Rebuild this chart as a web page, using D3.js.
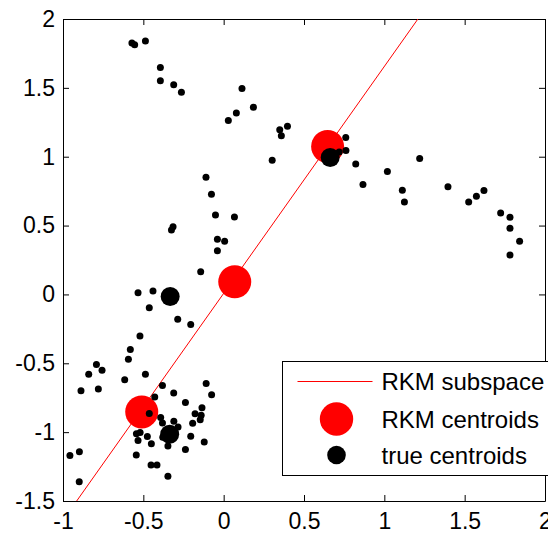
<!DOCTYPE html>
<html>
<head>
<meta charset="utf-8">
<script src="https://cdn.jsdelivr.net/npm/d3@7"></script>
<style>
  body { margin: 0; background: #fff; }
  svg { display: block; font-family: "Liberation Sans", Arial, Helvetica, sans-serif; }
</style>
</head>
<body>
<svg width="548" height="535"></svg>
<script>
// data points
const pointX = [-0.571, -0.554, -0.487, -0.394, -0.394, -0.311, -0.263, 0.114, 0.185, 0.079,
  0.029, 0.349, 0.359, 0.397, 0.302, -0.110, -0.076, -0.051, 0.067, -0.315,
  -0.325, -0.039, 0.006, -0.039, -0.143, 0.760, 0.761, 0.822, 0.867, 1.019,
  1.112, 1.125, 1.220, 1.396, 1.525, 1.573, 1.620, 1.724, 1.782, 1.782,
  1.842, 1.782, 0.719, -0.533, -0.440, -0.463, -0.286, -0.205, -0.521, -0.581,
  -0.593, -0.792, -0.757, -0.840, -0.487, -0.616, -0.381, -0.109, -0.888, -0.780,
  -0.311, -0.075, -0.429, -0.238, -0.135, -0.178, -0.463, -0.140, -0.146, -0.392,
  -0.381, -0.310, -0.193, -0.284, -0.543, -0.520, -0.475, -0.533, -0.205, -0.121,
  -0.450, -0.347, -0.238, -0.957, -0.898, -0.544, -0.452, -0.415, -0.347, -0.899,
  -0.379];
const pointY = [1.826, 1.813, 1.840, 1.648, 1.552, 1.522, 1.469, 1.496, 1.360, 1.317,
  1.263, 1.195, 1.152, 1.222, 0.975, 0.851, 0.728, 0.577, 0.563, 0.492,
  0.468, 0.401, 0.386, 0.318, 0.164, 1.139, 1.046, 0.947, 0.798, 0.892,
  0.757, 0.672, 0.987, 0.781, 0.672, 0.713, 0.754, 0.592, 0.561, 0.481,
  0.386, 0.286, 1.035, 0.012, 0.025, -0.097, -0.180, -0.219, -0.302, -0.399,
  -0.470, -0.508, -0.550, -0.579, -0.579, -0.619, -0.661, -0.646, -0.700, -0.686,
  -0.715, -0.729, -0.744, -0.785, -0.822, -0.867, -0.864, -0.878, -0.910, -0.894,
  -0.933, -0.920, -0.936, -0.962, -1.011, -1.003, -1.032, -1.060, -1.030, -1.071,
  -1.084, -1.100, -1.126, -1.170, -1.142, -1.166, -1.239, -1.239, -1.320, -1.360,
  -1.037];

const rkmX = [-0.510, 0.069, 0.647];
const rkmY = [-0.853, 0.092, 1.074];

const trueX = [-0.333, -0.336, 0.663];
const trueY = [-0.015, -1.015, 0.994];

// RKM subspace, end points where it meets the axes
const subspaceX = [-0.915, 1.209];
const subspaceY = [-1.5, 2];

const xTicks = [-1, -0.5, 0, 0.5, 1, 1.5, 2];
const yTicks = [-1.5, -1, -0.5, 0, 0.5, 1, 1.5, 2];
const legendLabels = ['RKM subspace', 'RKM centroids', 'true centroids'];

const svg = d3.select('svg');
const width = +svg.attr('width');
const height = +svg.attr('height');

const margin = {top: 19, right: 3, bottom: 34, left: 63};
const innerWidth = width - margin.left - margin.right;
const innerHeight = height - margin.top - margin.bottom;

const xScale = d3.scaleLinear().domain([-1, 2]).range([0, innerWidth]);
const yScale = d3.scaleLinear().domain([-1.5, 2]).range([innerHeight, 0]);

const g = svg.append('g')
  .attr('transform', `translate(${margin.left},${margin.top})`);

const fmt = d => String(d);

// bottom + left carry labels, top + right just the inward ticks
const xAxisG = g.append('g')
  .attr('transform', `translate(0,${innerHeight})`)
  .call(d3.axisBottom(xScale).tickValues(xTicks).tickFormat(fmt)
    .tickSizeInner(-6).tickSizeOuter(0).tickPadding(12));
const yAxisG = g.append('g')
  .call(d3.axisLeft(yScale).tickValues(yTicks).tickFormat(fmt)
    .tickSizeInner(-6).tickSizeOuter(0).tickPadding(8));
g.append('g')
  .call(d3.axisTop(xScale).tickValues(xTicks).tickFormat('')
    .tickSizeInner(-6).tickSizeOuter(0));
g.append('g')
  .attr('transform', `translate(${innerWidth},0)`)
  .call(d3.axisRight(yScale).tickValues(yTicks).tickFormat('')
    .tickSizeInner(-6).tickSizeOuter(0));

g.selectAll('.tick text')
  .attr('font-size', 23)
  .attr('font-family', '"Liberation Sans", Arial, Helvetica, sans-serif')
  .attr('fill', '#000');
g.selectAll('.domain, .tick line').attr('stroke', '#000');

const plot = g.append('g');

// subspace line
plot.append('line')
  .attr('x1', xScale(subspaceX[0])).attr('y1', yScale(subspaceY[0]))
  .attr('x2', xScale(subspaceX[1])).attr('y2', yScale(subspaceY[1]))
  .attr('stroke', '#ff0000')
  .attr('stroke-width', 1);

// RKM centroids
plot.selectAll('circle.rkm').data(rkmX)
  .enter().append('circle')
    .attr('class', 'rkm')
    .attr('cx', d => xScale(d))
    .attr('cy', (d, i) => yScale(rkmY[i]))
    .attr('r', 16.5)
    .attr('fill', '#ff0000');

// data points
plot.selectAll('circle.pt').data(pointX)
  .enter().append('circle')
    .attr('class', 'pt')
    .attr('cx', d => xScale(d))
    .attr('cy', (d, i) => yScale(pointY[i]))
    .attr('r', 3.5)
    .attr('fill', '#000');

// true centroids
plot.selectAll('circle.true').data(trueX)
  .enter().append('circle')
    .attr('class', 'true')
    .attr('cx', d => xScale(d))
    .attr('cy', (d, i) => yScale(trueY[i]))
    .attr('r', 9.5)
    .attr('fill', '#000');

// legend, runs off the right edge like the original
const legend = svg.append('g')
  .attr('transform', 'translate(282.5,361.5)');
legend.append('rect')
  .attr('width', 290)
  .attr('height', 114)
  .attr('fill', '#fff')
  .attr('stroke', '#000');

const rowY = [20, 57.5, 93.5];
legend.append('line')
  .attr('x1', 15).attr('x2', 90)
  .attr('y1', rowY[0]).attr('y2', rowY[0])
  .attr('stroke', '#ff0000');
legend.append('circle')
  .attr('cx', 54).attr('cy', rowY[1]).attr('r', 16.7)
  .attr('fill', '#ff0000');
legend.append('circle')
  .attr('cx', 54).attr('cy', rowY[2]).attr('r', 9.3)
  .attr('fill', '#000');

legend.selectAll('text').data(legendLabels)
  .enter().append('text')
    .attr('x', 99)
    .attr('y', (d, i) => rowY[i])
    .attr('dy', '0.36em')
    .attr('font-size', 24)
    .attr('fill', '#000')
    .text(d => d);
</script>
</body>
</html>
